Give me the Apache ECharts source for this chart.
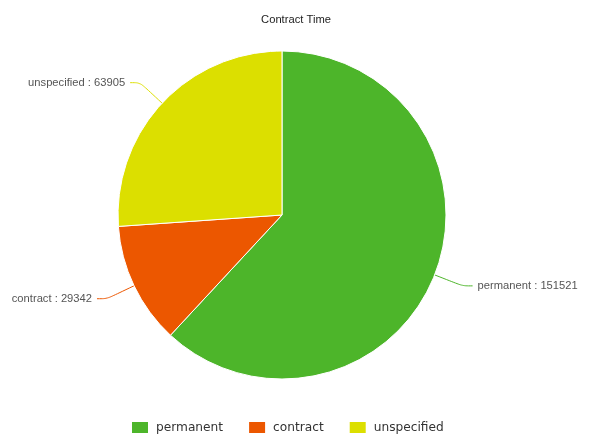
<!DOCTYPE html>
<html><head><meta charset="utf-8">
<script src="https://cdn.jsdelivr.net/npm/echarts@6/dist/echarts.min.js"></script>
<style>html,body{margin:0;padding:0;background:#fff}#c{width:592px;height:434px}</style>
</head><body><div id="c"></div>
<script>
const categories = ["permanent", "contract", "unspecified"];
const values = [151521, 29342, 63905];
const colors = ["#4db52a", "#ec5700", "#dcdf00"];

const chart = echarts.init(document.getElementById('c'));
chart.setOption({
  animation: false,
  title: { text: "Contract Time", left: 'center', top: 9,
    textStyle: { fontSize: 11.2, fontWeight: 'normal', color: '#222', fontFamily: 'Liberation Sans, Arial, sans-serif' } },
  legend: { top: 420, left: 130, padding: 0, itemWidth: 18, itemHeight: 13, itemGap: 24, icon: 'rect',
    data: categories,
    textStyle: { fontSize: 12.2, color: '#333', padding: [0, 0, 0, 2], fontFamily: 'DejaVu Sans, sans-serif' } },
  series: [{
    type: 'pie', center: [282, 215], radius: 164, startAngle: 90,
    data: categories.map((c, i) => ({ name: c, value: values[i], itemStyle: { color: colors[i] } })),
    itemStyle: { borderColor: '#fff', borderWidth: 1 },
    label: { formatter: '{b} : {c}', fontSize: 11.2, color: '#555', overflow: 'none',
      fontFamily: 'Liberation Sans, Arial, sans-serif' },
    labelLine: { length: 30, length2: 10, smooth: 0.3 }
  }]
});
</script></body></html>
